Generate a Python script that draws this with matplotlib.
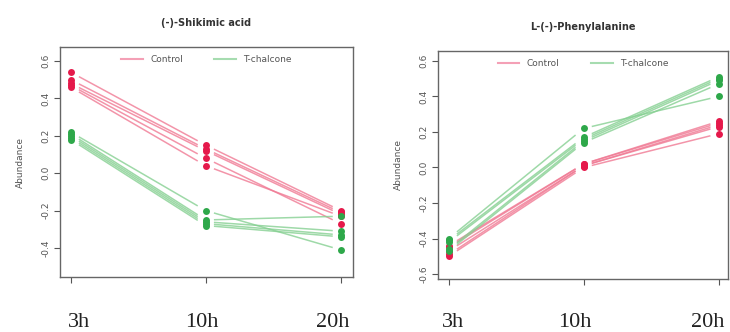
import matplotlib
matplotlib.use("Agg")
import matplotlib.pyplot as plt
import matplotlib.transforms as mtransforms
from matplotlib.lines import Line2D
import numpy as np

times = ["3h", "10h", "20h"]
titles = ["(-)-Shikimic acid", "L-(-)-Phenylalanine"]

shikimic_control = [[0.54, 0.15, -0.20], [0.50, 0.13, -0.21], [0.48, 0.12, -0.22],
                    [0.47, 0.08, -0.27], [0.46, 0.04, -0.23]]
shikimic_tchalcone = [[0.22, -0.20, -0.41], [0.21, -0.25, -0.23], [0.20, -0.26, -0.31],
                      [0.19, -0.27, -0.33], [0.18, -0.28, -0.34]]
phe_control = [[-0.44, 0.02, 0.26], [-0.45, 0.02, 0.25], [-0.47, 0.01, 0.24],
               [-0.49, 0.01, 0.23], [-0.50, 0.00, 0.19]]
phe_tchalcone = [[-0.40, 0.22, 0.40], [-0.41, 0.17, 0.51], [-0.42, 0.16, 0.50],
                 [-0.46, 0.15, 0.49], [-0.47, 0.14, 0.47]]

yticks_left = [-0.4, -0.2, 0.0, 0.2, 0.4, 0.6]
yticks_right = [-0.6, -0.4, -0.2, 0.0, 0.2, 0.4, 0.6]

RED_PT, RED_LN = "#e5194b", "#f07a94"
GRN_PT, GRN_LN = "#2ea84a", "#86d092"

fig = plt.figure(figsize=(7.3, 3.32), dpi=100)
axes_pos = [[60/730, 1-277/332, 293/730, 230/332],
            [438/730, 1-279/332, 290/730, 228/332]]
ylims = [(-0.555, 0.675), (-0.628, 0.656)]
xlims = [(0.92, 3.09), (0.92, 3.07)]
datasets = [(shikimic_control, shikimic_tchalcone), (phe_control, phe_tchalcone)]
ytick_sets = [yticks_left, yticks_right]
# horizontal nudges (in pixels) of the big time labels relative to their ticks
label_nudges = [[8, -4, -8], [4, -9, -11]]

def draw_series(ax, rows, lc, pc):
    x = np.arange(1, len(times) + 1)
    gx = 0.06  # gap around points (R type="b" style)
    for row in rows:
        y = np.array(row, dtype=float)
        for i in range(len(x) - 1):
            x0, x1 = x[i], x[i+1]
            y0, y1 = y[i], y[i+1]
            f0 = gx / (x1 - x0)
            xs = [x0 + (x1 - x0) * f0, x1 - (x1 - x0) * f0]
            ys = [y0 + (y1 - y0) * f0, y1 - (y1 - y0) * f0]
            ax.plot(xs, ys, color=lc, lw=1.1, alpha=0.8, solid_capstyle="butt", zorder=2)
        ax.plot(x, y, linestyle="none", marker="o", ms=5, color=pc,
                markeredgewidth=0, zorder=3)

for k in range(2):
    ax = fig.add_axes(axes_pos[k])
    ctrl, tch = datasets[k]
    draw_series(ax, ctrl, RED_LN, RED_PT)
    draw_series(ax, tch, GRN_LN, GRN_PT)
    ax.set_xlim(*xlims[k])
    ax.set_ylim(*ylims[k])
    ticks = np.arange(1, len(times) + 1)
    ax.set_xticks(ticks)
    ax.set_xticklabels([])
    ax.tick_params(axis="x", length=4, width=0.8, color="#555555")
    base = mtransforms.blended_transform_factory(ax.transData, fig.transFigure)
    for t, lab, dx in zip(ticks, times, label_nudges[k]):
        tr = base + mtransforms.ScaledTranslation(dx / 100, 0, fig.dpi_scale_trans)
        ax.text(t, 1 - 327/332, lab, transform=tr, ha="center", va="baseline",
                fontsize=16, family="Liberation Serif", color="#222222", clip_on=False)
    ax.set_yticks(ytick_sets[k])
    ax.set_yticklabels([f"{v:.1f}" for v in ytick_sets[k]], rotation=90, va="center",
                       fontsize=6.5, color="#555555")
    ax.tick_params(axis="y", length=4, width=0.8, color="#555555", pad=3)
    for s in ax.spines.values():
        s.set_color("#666666")
        s.set_linewidth(1.0)
    ax.set_title(titles[k], fontsize=7, fontweight="bold", color="#333333", pad=15)
    ax.set_ylabel("Abundance", fontsize=6.5, color="#555555", labelpad=12)
    handles = [Line2D([], [], color="#f4a0b6", lw=1.5),
               Line2D([], [], color="#a6dcb0", lw=1.5)]
    ax.legend(handles, ["Control", "T-chalcone"], loc="upper center", ncol=2,
              frameon=False, fontsize=6.5, labelcolor="#555555",
              handlelength=2.4, columnspacing=3.5, bbox_to_anchor=(0.5, 1.0))

fig.savefig("out.png", dpi=100)
